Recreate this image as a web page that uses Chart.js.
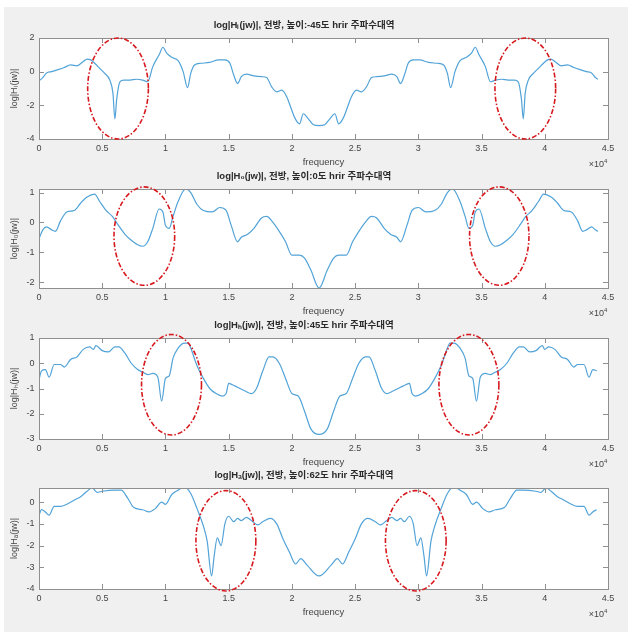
<!DOCTYPE html>
<html><head><meta charset="utf-8">
<script src="https://cdn.jsdelivr.net/npm/chart.js@4/dist/chart.umd.min.js"></script>
<style>
html,body{margin:0;padding:0;background:#fff}
body{width:635px;height:641px;overflow:hidden;position:relative}
#bg{position:absolute;left:4px;top:7px;width:624px;height:625px;background:#f0f0f0}
canvas{position:absolute;left:0}
</style></head><body>
<div id="bg"></div>
<canvas id="c0" width="635" height="172" style="top:4px"></canvas>
<canvas id="c1" width="635" height="172" style="top:155px"></canvas>
<canvas id="c2" width="635" height="172" style="top:304px"></canvas>
<canvas id="c3" width="635" height="172" style="top:454px"></canvas>
<script>
// ---- data ----
const xTickValues = [0,5000,10000,15000,20000,25000,30000,35000,40000,45000];
const xTickLabels = ['0','0.5','1','1.5','2','2.5','3','3.5','4','4.5'];

const titles = [
  'log|Hₗ(jw)|, 전방, 높이:-45도 hrir 주파수대역',
  'log|H₀(jw)|, 전방, 높이:0도 hrir 주파수대역',
  'log|Hₕ(jw)|, 전방, 높이:45도 hrir 주파수대역',
  'log|Hₐ(jw)|, 전방, 높이:62도 hrir 주파수대역'
];
const yLabels = ['log|Hₗ(jw)|','log|H₀(jw)|','log|Hₕ(jw)|','log|Hₐ(jw)|'];

const yTicks1 = [-4,-2,0,2];
const yTicks2 = [-2,-1,0,1];
const yTicks3 = [-3,-2,-1,0,1];
const yTicks4 = [-4,-3,-2,-1,0];

const freq1 = [0,300,600,1000,1500,2000,2500,3000,3500,3800,4100,4400,4800,5200,5600,5850,6000,6150,6400,6700,7200,7700,8200,8600,9000,9500,9800,10100,10500,11000,11400,11750,12000,12300,12800,13500,14200,14700,15100,15400,15700,16000,16400,17000,17600,18000,18400,18800,19200,19600,19900,20200,20600,20900,21300,21700,22150,22600,23000,23400,23700,24100,24400,24700,25100,25500,25900,26300,26700,27300,27900,28300,28600,28900,29200,29600,30100,30800,31500,32000,32300,32550,32900,33300,33800,34200,34500,34800,35300,35700,36100,36600,37100,37600,37900,38150,38300,38450,38700,39100,39500,39900,40200,40500,40800,41300,41800,42300,42800,43300,43700,44000,44200];
const logH1 = [-0.55,-0.35,-0.08,0.0,0.12,0.25,0.4,0.35,0.6,0.75,0.7,0.5,0.2,-0.1,-0.5,-1.3,-2.8,-1.6,-0.6,-0.5,-0.5,-0.45,-0.5,-0.6,0.3,1.0,1.45,1.1,0.85,0.65,0.0,-0.95,-0.1,0.4,0.5,0.55,0.7,0.7,0.5,-0.2,-0.7,-0.3,-0.15,-0.25,-0.3,-0.35,-0.9,-1.2,-1.1,-1.5,-2.1,-2.7,-3.1,-2.5,-2.8,-3.15,-3.2,-3.15,-2.8,-2.5,-3.1,-2.7,-2.1,-1.5,-1.1,-1.2,-0.9,-0.35,-0.3,-0.25,-0.15,-0.3,-0.7,-0.2,0.5,0.7,0.7,0.55,0.5,0.4,-0.1,-0.95,0.0,0.65,0.85,1.1,1.45,1.0,0.3,-0.6,-0.5,-0.45,-0.5,-0.5,-0.6,-1.6,-2.8,-1.3,-0.5,-0.1,0.2,0.5,0.7,0.75,0.6,0.35,0.4,0.25,0.12,0.0,-0.08,-0.35,-0.45];

const freq2 = [0,300,600,1000,1300,1700,2200,2800,3300,3800,4400,4800,5300,5800,6200,6800,7300,7800,8200,8600,9000,9500,9800,10000,10300,10600,11000,11600,12000,12500,13000,13700,14300,14800,15200,15700,16000,16500,17000,17600,18000,18500,19000,19500,20000,20600,21000,21500,22150,22800,23300,23700,24300,24800,25300,25800,26300,26700,27300,27800,28300,28600,29100,29500,30000,30600,31300,31800,32300,32700,33300,33700,34000,34300,34500,34800,35300,35700,36100,36500,37000,37500,38100,38500,39000,39500,39900,40500,41000,41500,42100,42600,43000,43300,43700,44000,44200];
const logH2 = [-0.55,-0.25,-0.15,-0.25,-0.3,0.05,0.35,0.4,0.65,0.85,0.95,0.7,0.4,0.2,-0.05,-0.4,-0.6,-0.75,-0.8,-0.65,-0.2,0.45,0.35,-0.1,-0.2,0.2,0.7,1.12,1.0,0.6,0.4,0.35,0.5,0.4,-0.1,-0.65,-0.5,-0.4,-0.2,0.15,0.2,0.0,-0.3,-0.65,-1.1,-1.1,-1.2,-1.6,-2.2,-1.6,-1.2,-1.1,-1.1,-0.65,-0.3,0.0,0.2,0.15,-0.2,-0.4,-0.5,-0.65,-0.1,0.4,0.5,0.35,0.4,0.6,1.0,1.12,0.7,0.2,-0.2,-0.1,0.35,0.45,-0.2,-0.65,-0.8,-0.75,-0.6,-0.4,-0.05,0.2,0.4,0.7,0.95,0.85,0.65,0.4,0.35,0.05,-0.3,-0.25,-0.15,-0.25,-0.3];

const freq3 = [0,200,500,800,1200,1700,2000,2500,3000,3500,4000,4300,4500,5000,5500,6000,6300,6800,7300,7800,8200,8600,9000,9400,9700,10000,10300,10600,11000,11500,11800,12000,12500,13000,13500,14000,14500,14800,15000,15300,15700,16300,16800,17200,17700,18200,18500,19000,19500,20000,20500,21000,21500,22150,22800,23300,23800,24300,24800,25300,25800,26100,26600,27100,27500,28000,28600,29000,29300,29500,29800,30300,30800,31300,31800,32300,32500,32800,33300,33700,34000,34300,34600,34900,35300,35700,36100,36500,37000,37500,38000,38300,38800,39300,39800,40000,40300,40800,41300,41800,42300,42600,43100,43500,43800,44100];
const logH3 = [-0.65,-0.3,-0.25,-0.55,-0.05,-0.05,-0.15,0.15,0.25,0.55,0.65,0.55,0.7,0.5,0.45,0.65,0.65,0.4,0.0,-0.25,-0.35,-0.45,-0.4,-0.55,-1.5,-0.6,-0.5,0.2,0.6,0.8,0.8,0.6,-0.1,-0.6,-1.0,-1.2,-1.3,-1.2,-0.8,-0.85,-0.95,-1.1,-1.2,-1.0,-0.3,0.25,0.25,0.0,-0.6,-1.2,-1.3,-1.9,-2.6,-2.82,-2.6,-1.9,-1.3,-1.2,-0.6,0.0,0.25,0.25,-0.3,-1.0,-1.2,-1.1,-0.95,-0.85,-0.8,-1.2,-1.3,-1.2,-1.0,-0.6,-0.1,0.6,0.8,0.8,0.6,0.2,-0.5,-0.6,-1.5,-0.55,-0.4,-0.45,-0.35,-0.25,0.0,0.4,0.65,0.65,0.45,0.5,0.7,0.55,0.65,0.55,0.25,0.15,-0.15,-0.05,-0.05,-0.55,-0.25,-0.3];

const freq4 = [0,200,500,800,1200,1700,2200,2800,3300,3800,4200,4600,5000,6000,6500,7000,7500,8200,8700,9200,9700,10000,10500,11000,11500,12000,12500,13000,13300,13650,13850,14100,14400,14700,15000,15400,15700,16000,16400,16800,17300,17700,18300,18800,19300,19800,20300,20700,21200,22150,23100,23600,24000,24500,25000,25500,26000,26600,27000,27500,27900,28300,28600,28900,29300,29600,29900,30200,30450,30650,31000,31300,31800,32300,32800,33300,33800,34300,34600,35100,35600,36100,36800,37300,37800,38300,39300,39700,40100,40500,41000,41500,42100,42600,43100,43500,43800,44100];
const logH4 = [-0.6,-0.35,-0.45,-0.6,-0.2,-0.2,-0.1,0.1,0.25,0.5,0.65,0.45,0.5,0.55,0.55,0.2,-0.25,-0.35,-0.45,-0.3,0.0,-0.1,0.35,0.55,0.7,0.4,-0.3,-1.1,-1.8,-3.4,-2.5,-1.65,-2.0,-1.0,-0.65,-0.9,-0.75,-0.85,-0.7,-0.85,-1.05,-0.9,-0.75,-1.0,-1.7,-2.3,-2.85,-2.6,-2.9,-3.4,-2.9,-2.6,-2.85,-2.3,-1.7,-1.0,-0.75,-0.9,-1.05,-0.85,-0.7,-0.85,-0.75,-0.9,-0.65,-1.0,-2.0,-1.65,-2.5,-3.4,-1.8,-1.1,-0.3,0.4,0.7,0.55,0.35,-0.1,0.0,-0.3,-0.45,-0.35,-0.25,0.2,0.55,0.55,0.5,0.45,0.65,0.5,0.25,0.1,-0.1,-0.2,-0.2,-0.6,-0.45,-0.35];

// ---- layout / style (not data) ----
const yRanges = [[-4,2],[-2.2,1.12],[-3,1],[-4,0.65]];
const plotHeights = [101,99,101,101];
const ellipses = [
  [{cx:6250,cy:-1.0,rx:2400,ry:3.0},{cx:38460,cy:-1.0,rx:2400,ry:3.0}],
  [{cx:8330,cy:-0.46,rx:2400,ry:1.65},{cx:36400,cy:-0.46,rx:2350,ry:1.65}],
  [{cx:10480,cy:-0.85,rx:2370,ry:1.99},{cx:34000,cy:-0.85,rx:2370,ry:1.99}],
  [{cx:14780,cy:-1.78,rx:2370,ry:2.31},{cx:29800,cy:-1.78,rx:2400,ry:2.31}]
];
const series = [[freq1,logH1],[freq2,logH2],[freq3,logH3],[freq4,logH4]];
const yTickSets = [yTicks1,yTicks2,yTicks3,yTicks4];

const FONT = "'Liberation Sans', Arial, 'Noto Sans CJK KR', sans-serif";
const BOX = '#8f8f8f';
const TXT = '#454545';

const matlabPlugin = {
  id: 'matlabLook',
  beforeDraw(chart) {
    const {ctx, chartArea: a} = chart;
    ctx.save(); ctx.fillStyle = '#fff';
    ctx.fillRect(a.left, a.top, a.right - a.left, a.bottom - a.top);
    ctx.restore();
  },
  afterDatasetsDraw(chart) {
    const {ctx, chartArea: a, scales: {x, y}} = chart;
    ctx.save();
    ctx.strokeStyle = BOX; ctx.lineWidth = 1;
    ctx.beginPath();
    const L = 5;
    x.ticks.forEach(t => {
      const px = Math.round(x.getPixelForValue(t.value)) + 0.5;
      ctx.moveTo(px, a.bottom); ctx.lineTo(px, a.bottom - L);
      ctx.moveTo(px, a.top); ctx.lineTo(px, a.top + L);
    });
    y.ticks.forEach(t => {
      const py = Math.round(y.getPixelForValue(t.value)) + 0.5;
      ctx.moveTo(a.left, py); ctx.lineTo(a.left + L, py);
      ctx.moveTo(a.right, py); ctx.lineTo(a.right - L, py);
    });
    ctx.stroke();
    ctx.strokeRect(Math.round(a.left) + 0.5, Math.round(a.top) + 0.5,
                   Math.round(a.right - a.left), Math.round(a.bottom - a.top));
    // x10^4 exponent label
    ctx.fillStyle = TXT;
    ctx.font = '9px ' + FONT;
    ctx.textAlign = 'right'; ctx.textBaseline = 'middle';
    ctx.fillText('×10', a.right - 4, a.bottom + 26);
    ctx.font = '6px ' + FONT;
    ctx.textAlign = 'left';
    ctx.fillText('4', a.right - 4, a.bottom + 22);
    ctx.restore();
  },
  afterDraw(chart) {
    const {ctx, scales: {x, y}} = chart;
    const list = chart.options.plugins.matlabLook.ellipses;
    ctx.save();
    ctx.strokeStyle = 'rgb(215,25,30)';
    ctx.lineWidth = 1.6;
    ctx.setLineDash([5, 2, 1.5, 2]);
    list.forEach(e => {
      const cx = x.getPixelForValue(e.cx), cy = y.getPixelForValue(e.cy);
      const rx = Math.abs(x.getPixelForValue(e.cx + e.rx) - cx);
      const ry = Math.abs(y.getPixelForValue(e.cy + e.ry) - cy);
      ctx.beginPath();
      ctx.ellipse(cx, cy, rx, ry, 0, 0, Math.PI * 2);
      ctx.stroke();
    });
    ctx.restore();
  }
};

for (let i = 0; i < 4; i++) {
  const [fx, fy] = series[i];
  const n = Math.min(fx.length, fy.length);
  const pts = [];
  for (let k = 0; k < n; k++) pts.push({x: fx[k], y: fy[k]});
  const yt = yTickSets[i];
  const xH = 172 - 34 - plotHeights[i];
  new Chart(document.getElementById('c' + i), {
    type: 'line',
    data: { datasets: [{
      data: pts,
      borderColor: 'rgb(82,163,216)',
      borderWidth: 1.2,
      pointRadius: 0,
      cubicInterpolationMode: 'monotone',
      fill: false
    }]},
    options: {
      responsive: false,
      animation: false,
      events: [],
      layout: { padding: { left: 0, right: 27, top: 0, bottom: 0 } },
      plugins: {
        legend: { display: false },
        tooltip: { enabled: false },
        title: {
          display: true,
          text: titles[i],
          color: '#2a2a2a',
          font: { family: FONT, size: 9.5, weight: 'bold' },
          padding: { top: 15.3, bottom: 7.3 }
        },
        matlabLook: { ellipses: ellipses[i] }
      },
      scales: {
        x: {
          type: 'linear', min: 0, max: 45000,
          grid: { display: false, drawTicks: false },
          border: { display: false },
          afterBuildTicks: s => { s.ticks = xTickValues.map(v => ({value: v})); },
          afterFit: s => { s.height = xH; },
          ticks: {
            autoSkip: false, maxRotation: 0, padding: 4,
            color: TXT, font: { family: FONT, size: 9 },
            callback: (v, idx) => xTickLabels[idx]
          },
          title: {
            display: true, text: 'frequency', color: TXT,
            font: { family: FONT, size: 9.5 },
            padding: { top: 0, bottom: xH - 23 - 5.7 }
          }
        },
        y: {
          type: 'linear', min: yRanges[i][0], max: yRanges[i][1],
          grid: { display: false, drawTicks: false },
          border: { display: false },
          afterBuildTicks: s => { s.ticks = yt.map(v => ({value: v})); },
          afterFit: s => { s.width = 39; },
          ticks: {
            padding: 4.5, color: TXT, font: { family: FONT, size: 9 },
            callback: v => String(v)
          },
          title: {
            display: true, text: yLabels[i], color: TXT,
            font: { family: FONT, size: 9 },
            padding: { top: 9.5, bottom: 0 }
          }
        }
      }
    },
    plugins: [matlabPlugin]
  });
}
</script>
</body></html>
